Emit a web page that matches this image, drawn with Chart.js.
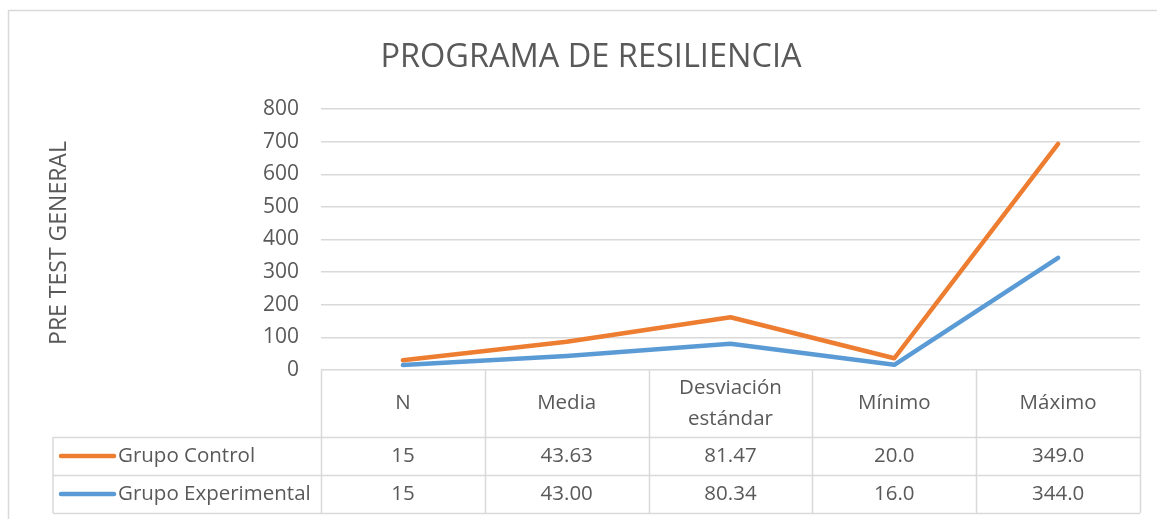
<!DOCTYPE html>
<html>
<head>
<meta charset="utf-8">
<script src="https://cdn.jsdelivr.net/npm/chart.js@4.4.1/dist/chart.umd.min.js"></script>
<style>
  html, body { margin: 0; padding: 0; background: #fff; }
  #wrap { width: 1157px; height: 519px; position: relative; }
</style>
</head>
<body>
<div id="wrap"><canvas id="chart" width="1157" height="519"></canvas></div>
<script>
// ── Data ─────────────────────────────────────────────────────────────────────

const categories = ['N', 'Media', ['Desviación', 'estándar'], 'Mínimo', 'Máximo'];
const grupoControl = [15, 43.63, 81.47, 20.0, 349.0];
const grupoExperimental = [15, 43.00, 80.34, 16.0, 344.0];
const decimals = [0, 2, 2, 1, 1];   // how each column is printed in the table
const yTicks = { min: 0, max: 800, step: 100 };

const FONT = "'Open Sans', 'DejaVu Sans', sans-serif";
const TXT = '#595959';
const LINE = '#d9d9d9';
const ORANGE = '#ED7D31';
const BLUE = '#5B9BD5';

// rows of the data table (display order)
const tableRows = [
  { label: 'Grupo Control', color: ORANGE, values: grupoControl },
  { label: 'Grupo Experimental', color: BLUE, values: grupoExperimental },
];

// ── Frame, title, axis title and data table ─────────────────────────────────

const decor = {
  id: 'decor',
  beforeDraw(chart) {
    const { ctx } = chart;
    ctx.save();
    ctx.fillStyle = '#fff';
    ctx.fillRect(0, 0, chart.width, chart.height);
    ctx.strokeStyle = LINE;
    ctx.lineWidth = 1.5;
    ctx.strokeRect(8.5, 10.5, chart.width + 20, chart.height + 20);
    ctx.restore();
  },
  afterDraw(chart) {
    const { ctx, chartArea: ca } = chart;
    const x = chart.scales.x;
    const colW = x.getPixelForValue(1) - x.getPixelForValue(0);
    const headTop = ca.bottom, headBot = 437, rowH = 38;
    const legLeft = 53;

    ctx.save();
    ctx.fillStyle = TXT;

    // chart title
    ctx.font = `32.5px ${FONT}`;
    ctx.textAlign = 'center';
    ctx.textBaseline = 'alphabetic';
    ctx.fillText('PROGRAMA DE RESILIENCIA', 591, 67);

    // y axis title
    ctx.save();
    ctx.translate(66, 243);
    ctx.rotate(-Math.PI / 2);
    ctx.font = `23px ${FONT}`;
    ctx.fillText('PRE TEST GENERAL', 0, 0);
    ctx.restore();

    // table grid
    ctx.strokeStyle = LINE;
    ctx.lineWidth = 1.5;
    ctx.beginPath();
    for (let i = 0; i <= categories.length; i++) {
      const cx = Math.round(ca.left + i * colW) + 0.5;
      ctx.moveTo(cx, headTop);
      ctx.lineTo(cx, headBot + rowH * tableRows.length);
    }
    ctx.moveTo(legLeft, headBot);
    ctx.lineTo(legLeft, headBot + rowH * tableRows.length);
    for (let r = 0; r <= tableRows.length; r++) {
      const yy = headBot + r * rowH + 0.5;
      ctx.moveTo(legLeft, yy);
      ctx.lineTo(ca.right, yy);
    }
    ctx.stroke();

    // header labels
    ctx.font = `20.5px ${FONT}`;
    ctx.textBaseline = 'middle';
    ctx.textAlign = 'center';
    categories.forEach((c, i) => {
      const cx = x.getPixelForValue(i);
      const mid = (headTop + headBot) / 2;
      const lines = Array.isArray(c) ? c : [c];
      const lh = 31;
      lines.forEach((l, k) => {
        ctx.fillText(l, cx, mid + (k - (lines.length - 1) / 2) * lh);
      });
    });

    // rows
    tableRows.forEach((row, r) => {
      const cy = headBot + r * rowH + rowH / 2;
      ctx.strokeStyle = row.color;
      ctx.lineWidth = 4.5;
      ctx.lineCap = 'round';
      ctx.beginPath();
      ctx.moveTo(61, cy);
      ctx.lineTo(114, cy);
      ctx.stroke();
      ctx.textAlign = 'left';
      ctx.fillText(row.label, 118, cy);
      ctx.textAlign = 'center';
      row.values.forEach((v, i) => {
        ctx.fillText(v.toFixed(decimals[i]), x.getPixelForValue(i), cy);
      });
    });
    ctx.restore();
  }
};

// ── Chart ────────────────────────────────────────────────────────────────────

new Chart(el('chart'), {
  type: 'line',
  data: {
    labels: categories,
    datasets: [
      // Excel stacked line: experimental is the base, control sits on top
      { label: 'Grupo Experimental', data: grupoExperimental, borderColor: BLUE },
      { label: 'Grupo Control', data: grupoControl, borderColor: ORANGE },
    ]
  },
  options: {
    responsive: false,
    animation: false,
    layout: { padding: { left: 0, right: 17, top: 109, bottom: 149 } },
    elements: {
      line: { borderWidth: 4.5, tension: 0, borderCapStyle: 'round', borderJoinStyle: 'round', fill: false },
      point: { radius: 0, hoverRadius: 0 }
    },
    plugins: { legend: { display: false }, title: { display: false }, tooltip: { enabled: false } },
    scales: {
      x: { display: false, offset: true },
      y: {
        stacked: true,
        min: yTicks.min, max: yTicks.max,
        afterFit: s => { s.width = 321; },
        border: { display: false },
        grid: { color: LINE, lineWidth: 1.5, drawTicks: false },
        ticks: { stepSize: yTicks.step, padding: 22, color: TXT, font: { family: FONT, size: 21 } }
      }
    }
  },
  plugins: [decor]
});

function el(id) { return document.getElementById(id); }
</script>
</body>
</html>
